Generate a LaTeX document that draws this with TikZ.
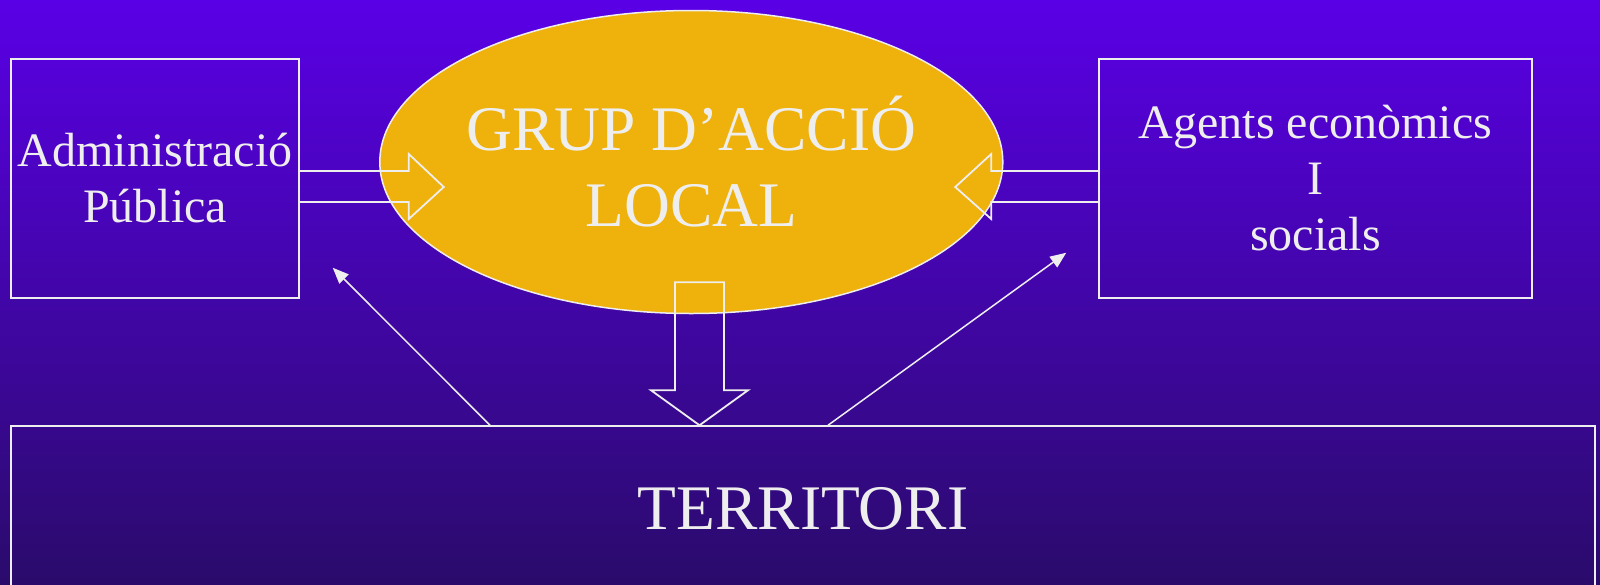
\documentclass[tikz,border=0pt]{standalone}
\usepackage{fontspec}
\setmainfont{Liberation Serif}
\usepackage{xcolor}
\usetikzlibrary{shapes.geometric, arrows.meta, positioning, calc}

\definecolor{bgtop}{HTML}{5A00E6}
\definecolor{bgbot}{HTML}{2A0B6B}
\definecolor{galfill}{HTML}{EFB10B}
\definecolor{linecol}{HTML}{EEEEEE}

\tikzset{
    boxnode/.style={draw=linecol, line width=1.5pt, text=linecol, align=center, inner sep=0pt},
    galnode/.style={draw=linecol, line width=1.5pt, fill=galfill, ellipse, inner sep=0pt},
    blockarrow/.style={draw=linecol, line width=1.8pt, line join=miter},
    thinarrow/.style={draw=linecol, line width=1.5pt, -{Triangle[length=16pt, width=13pt]}},
    smalltext/.style={font=\fontsize{48}{56}\selectfont},
    bigtext/.style={font=\fontsize{63.5}{76}\selectfont}
}

\begin{document}
\begin{tikzpicture}[x=1pt, y=-1pt]
    \useasboundingbox (0,0) rectangle (1600,584);
    \fill[top color=bgtop, bottom color=bgbot] (0,0) rectangle (1600,584);

    \node[boxnode, smalltext, minimum width=288pt, minimum height=239pt] (admin) at (155,178.5) {Administració\\Pública};
    \node[boxnode, smalltext, minimum width=433pt, minimum height=239pt] (agents) at (1315.5,178.5) {Agents econòmics\\I\\socials};
    \node[galnode, minimum width=623pt, minimum height=303pt] (gal) at (691.3,162) {};
    \node[text=linecol, align=center, bigtext] (galtext) at (gal.center) {GRUP D’ACCIÓ\\LOCAL};
    \node[boxnode, bigtext, minimum width=1584pt, minimum height=166pt] (territori) at (803,509) {TERRITORI};

    \coordinate (downtip) at ($(territori.north)+(-103.5,0)$);

    % block arrows
    \draw[blockarrow] ($(admin.east)+(0,-7.5)$) -- ++(109,0) -- ++(0,-17) -- ++(35,33) -- ++(-35,32) -- ++(0,-17) -- ++(-109,0);
    \draw[blockarrow] ($(agents.west)+(0,-7.5)$) -- ++(-107,0) -- ++(0,-17) -- ++(-36,33) -- ++(36,32) -- ++(0,-17) -- ++(107,0);
    \draw[blockarrow] ($(downtip)+(-24.5,-143)$) -- ++(49,0) -- ++(0,108) -- ++(24,0) -- (downtip) -- ++(-48.5,-35) -- ++(24,0) -- cycle;

    % feedback
    \draw[thinarrow] ($(territori.north)+(-313,0)$) -- ($(admin.south east)+(33,-31)$);
    \draw[thinarrow] ($(territori.north)+(25,0)$) -- ($(agents.south west)+(-32,-46)$);
\end{tikzpicture}
\end{document}
